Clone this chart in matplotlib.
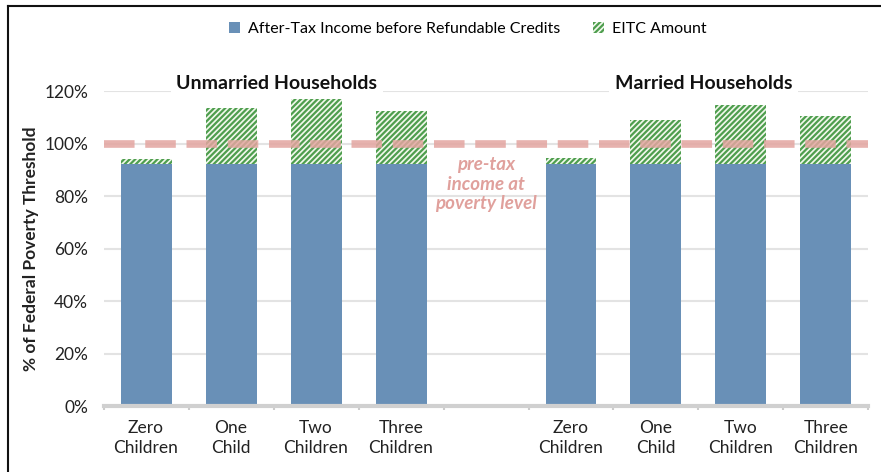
import numpy as np
import matplotlib.pyplot as plt
from matplotlib.patches import Patch
from matplotlib.lines import Line2D

plt.rcParams['font.family'] = ['Lato', 'DejaVu Sans']

categories = ['Zero\nChildren', 'One\nChild', 'Two\nChildren', 'Three\nChildren']
groups = ['Unmarried Households', 'Married Households']
after_tax_unmarried = [92.3, 92.3, 92.3, 92.3]
eitc_unmarried = [1.7, 21.3, 24.5, 20.1]
after_tax_married = [92.3, 92.3, 92.3, 92.3]
eitc_married = [2.0, 16.7, 22.5, 18.2]
poverty_line = 100

blue = '#6990B7'
green = '#4E9E4E'
pink = '#E3A5A0'

fig = plt.figure(figsize=(8.81, 4.72), dpi=100)
ax = fig.add_axes([0.1175, 0.1398, 0.8683, 0.6674])

# slots: 4 unmarried, 1 gap, 4 married
x_un = np.arange(4)
x_ma = np.arange(4) + 5
x_all = np.concatenate([x_un, x_ma])
base = after_tax_unmarried + after_tax_married
eitc = eitc_unmarried + eitc_married

plt.rcParams['hatch.linewidth'] = 1.6
ax.bar(x_all, base, width=0.6, color=blue, zorder=2)
ax.bar(x_all, eitc, bottom=base, width=0.6, facecolor='#F1F8EC', edgecolor=green,
       hatch='//////', linewidth=0, zorder=2)

ax.axhline(poverty_line, color=pink, lw=5.5, dashes=(4.0, 1.4), alpha=0.85, zorder=3)

ax.set_xlim(-0.5, 8.5)
ax.set_ylim(0, 120)
ax.set_yticks(np.arange(0, 121, 20))
ax.set_yticklabels([f'{v}%' for v in range(0, 121, 20)], fontsize=12.5, color='#222222')
ax.yaxis.grid(True, color='#E3E3E3', lw=1.5, zorder=0)
ax.set_axisbelow(True)
ax.tick_params(axis='y', length=0, pad=11)

ax.set_xticks(x_all)
ax.set_xticklabels(categories * 2, fontsize=12.5, color='#222222', linespacing=1.35)
ax.set_xticks(np.arange(-0.5, 9, 1), minor=True)
ax.tick_params(axis='x', which='major', length=0, pad=10)
ax.tick_params(axis='x', which='minor', length=3, color='#CCCCCC', width=1.5)

for s in ['top', 'right', 'left']:
    ax.spines[s].set_visible(False)
ax.spines['bottom'].set_color('#D0D0D0')
ax.spines['bottom'].set_linewidth(3)

ax.set_ylabel('% of Federal Poverty Threshold', fontsize=12.5, fontweight='bold',
              color='#222222', labelpad=4)

ax.text(1.54, 123, groups[0], ha='center', va='center', fontsize=14, fontweight='bold',
        color='#111111', bbox=dict(facecolor='white', edgecolor='none', pad=4))
ax.text(6.56, 123, groups[1], ha='center', va='center', fontsize=14, fontweight='bold',
        color='#111111', bbox=dict(facecolor='white', edgecolor='none', pad=4))

ax.text(4.0, 84.5, 'pre-tax\nincome at\npoverty level', ha='center', va='center',
        fontsize=13.5, fontweight='bold', style='italic', color='#E0A09C', linespacing=1.2,
        zorder=4)

handles = [Patch(facecolor=blue, edgecolor='none'),
           Patch(facecolor='#F1F8EC', edgecolor=green, hatch='//////', linewidth=0)]
fig.legend(handles, ['After-Tax Income before Refundable Credits', 'EITC Amount'],
           loc='center', bbox_to_anchor=(0.531, 0.938), ncol=2, frameon=False,
           fontsize=11.5, handlelength=0.7, handleheight=0.7, handletextpad=0.5,
           columnspacing=2.0)

# frame lines at the top and left of the image
fig.add_artist(Line2D([0.009, 1.0], [0.987, 0.987], color='#111111', lw=1.5))
fig.add_artist(Line2D([0.009, 0.009], [0.0, 0.987], color='#111111', lw=1.5))

fig.savefig('out.png', dpi=100)
